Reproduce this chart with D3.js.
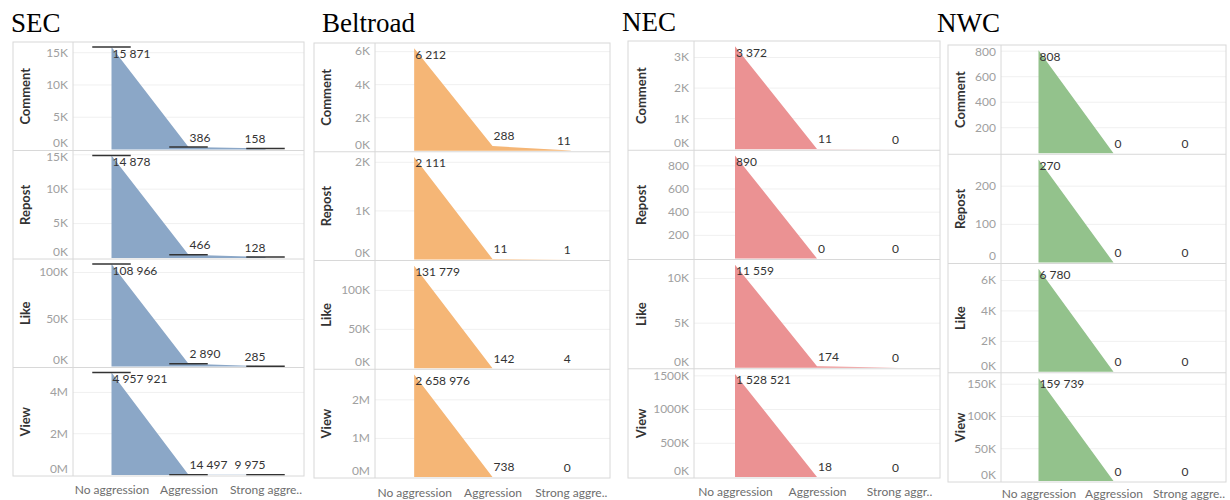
<!DOCTYPE html>
<html><head><meta charset="utf-8">
<script src="https://cdn.jsdelivr.net/npm/d3@7"></script>
<style>body{margin:0;background:#fff}svg{display:block}</style></head>
<body><svg id="c" width="1230" height="500"></svg>
<script>
// ---------- data ----------
const categories = ["No aggression", "Aggression", "Strong aggression"];
const metrics = ["Comment", "Repost", "Like", "View"];
const regions = ["SEC", "Beltroad", "NEC", "NWC"];

const secValues      = [[15871, 386, 158], [14878, 466, 128], [108966, 2890, 285], [4957921, 14497, 9975]];
const beltroadValues = [[6212, 288, 11], [2111, 11, 1], [131779, 142, 4], [2658976, 738, 0]];
const necValues      = [[3372, 11, 0], [890, 0, 0], [11559, 174, 0], [1528521, 18, 0]];
const nwcValues      = [[808, 0, 0], [270, 0, 0], [6780, 0, 0], [159739, 0, 0]];

const secTicks      = [[0, 5000, 10000, 15000], [0, 5000, 10000, 15000], [0, 50000, 100000], [0, 2000000, 4000000]];
const beltroadTicks = [[0, 2000, 4000, 6000], [0, 1000, 2000], [0, 50000, 100000], [0, 1000000, 2000000]];
const necTicks      = [[0, 1000, 2000, 3000], [200, 400, 600, 800], [0, 5000, 10000], [0, 500000, 1000000, 1500000]];
const nwcTicks      = [[200, 400, 600, 800], [0, 100, 200], [0, 2000, 4000, 6000], [0, 50000, 100000, 150000]];

const secUnits      = ["K", "K", "K", "M"];
const beltroadUnits = ["K", "K", "K", "M"];
const necUnits      = ["K", "", "K", "K"];
const nwcUnits      = ["", "", "K", "K"];

const xTickLabels    = ["No aggression", "Aggression", "Strong aggre.."];
const necXTickLabels = ["No aggression", "Aggression", "Strong aggr.."];

// ---------- styling / layout ----------
const colors = ["#8ba7c7", "#f5b676", "#eb9293", "#93c28c"];
const panelValues = [secValues, beltroadValues, necValues, nwcValues];
const panelTicks = [secTicks, beltroadTicks, necTicks, nwcTicks];
const panelUnits = [secUnits, beltroadUnits, necUnits, nwcUnits];
const panelXLabels = [xTickLabels, xTickLabels, necXTickLabels, xTickLabels];
const panelMarkers = [true, false, false, false];

const layout = [
  {left: 13,  axisX: 73,   right: 304,  top: 42, bottom: 476, titleX: 11,  titleY: 32, rowLabelX: 25,  xLabelY: 489},
  {left: 314, axisX: 375,  right: 610,  top: 43, bottom: 478, titleX: 322, titleY: 32, rowLabelX: 326, xLabelY: 492},
  {left: 628, axisX: 694,  right: 940,  top: 41, bottom: 478, titleX: 622, titleY: 31, rowLabelX: 641, xLabelY: 491},
  {left: 948, axisX: 1001, right: 1226, top: 45, bottom: 482, titleX: 937, titleY: 32, rowLabelX: 960, xLabelY: 493}
];

const FONT = "Lato, 'Open Sans', sans-serif";
const numFmt = v => d3.format(",")(v).replace(/,/g, " ");
const unitFmt = u => v => u === "K" ? (v / 1000) + "K" : u === "M" ? (v / 1e6) + "M" : String(v);

const svg = d3.select("#c");

regions.forEach((name, pi) => {
  const L = layout[pi];
  const g = svg.append("g");
  const x = d3.scalePoint().domain(categories).range([L.axisX, L.right]).padding(0.5);
  const rowH = (L.bottom - L.top) / metrics.length;

  // title
  g.append("text").attr("x", L.titleX).attr("y", L.titleY)
    .attr("font-family", "'Liberation Serif', 'Times New Roman', serif")
    .attr("font-size", 27).attr("fill", "#000").text(name);

  metrics.forEach((m, ri) => {
    const vals = panelValues[pi][ri];
    const rt = L.top + ri * rowH, rb = rt + rowH;
    const y = d3.scaleLinear().domain([0, d3.max(vals) * 1.05]).range([rb - 1, rt]);
    const ticks = panelTicks[pi][ri];

    // gridlines
    g.append("g").selectAll("line").data(ticks.filter(t => t > 0)).join("line")
      .attr("x1", L.axisX).attr("x2", L.right)
      .attr("y1", d => y(d)).attr("y2", d => y(d))
      .attr("stroke", "#f0f0f0").attr("stroke-width", 1);

    // area
    const data = categories.map((c, i) => ({c, v: vals[i]}));
    const area = d3.area().x(d => x(d.c)).y0(y(0)).y1(d => y(d.v));
    g.append("path").datum(data).attr("d", area).attr("fill", colors[pi]);

    // reference markers (SEC)
    if (panelMarkers[pi]) {
      const half = x.step() / 4;
      g.append("g").selectAll("line").data(data).join("line")
        .attr("x1", d => x(d.c) - half).attr("x2", d => x(d.c) + half)
        .attr("y1", d => y(d.v)).attr("y2", d => y(d.v))
        .attr("stroke", "#333").attr("stroke-width", 1.5);
    }

    // y axis
    const ax = g.append("g").attr("transform", `translate(${L.axisX},0)`)
      .call(d3.axisLeft(y).tickValues(ticks).tickFormat(unitFmt(panelUnits[pi][ri])).tickSize(0).tickPadding(5));
    ax.select(".domain").remove();
    ax.selectAll(".tick").attr("transform", d => `translate(0,${Math.max(rt + 7, Math.min(rb - 7, y(d)))})`);
    ax.selectAll(".tick text").attr("font-family", FONT).attr("font-size", 12).attr("fill", "#a0a0a0");

    // row separator
    if (ri < metrics.length - 1) {
      g.append("line").attr("x1", L.left).attr("x2", L.right).attr("y1", rb).attr("y2", rb)
        .attr("stroke", "#d8d8d8").attr("stroke-width", 1);
    }

    // row label
    g.append("text").attr("transform", `translate(${L.rowLabelX},${(rt + rb) / 2}) rotate(-90)`)
      .attr("text-anchor", "middle").attr("dy", "0.35em")
      .attr("font-family", FONT).attr("font-weight", "bold").attr("font-size", 13)
      .attr("fill", "#333").text(m);

    // data labels
    g.append("g").selectAll("text").data(data).join("text")
      .attr("x", (d, i) => x(d.c) + (i === categories.length - 1 ? 0 : 1))
      .attr("y", d => Math.max(y(d.v) - 5.5, rt + 15.5))
      .attr("text-anchor", (d, i) => i === categories.length - 1 ? "end" : "start")
      .attr("font-family", FONT).attr("font-size", 12).attr("fill", "#333")
      .text(d => numFmt(d.v));
  });

  // panel frame and axis line
  g.append("rect").attr("x", L.left).attr("y", L.top)
    .attr("width", L.right - L.left).attr("height", L.bottom - L.top)
    .attr("fill", "none").attr("stroke", "#d8d8d8");
  g.append("line").attr("x1", L.axisX).attr("x2", L.axisX).attr("y1", L.top).attr("y2", L.bottom)
    .attr("stroke", "#d8d8d8");

  // x axis labels
  const xa = g.append("g").attr("transform", `translate(0,${L.xLabelY - 4})`)
    .call(d3.axisBottom(x).tickSize(0).tickPadding(0).tickFormat((d, i) => panelXLabels[pi][i]));
  xa.select(".domain").remove();
  xa.selectAll(".tick text").attr("font-family", FONT).attr("font-size", 12).attr("fill", "#6e6e6e")
    .attr("dy", "0.71em");
});
</script>
</body></html>
